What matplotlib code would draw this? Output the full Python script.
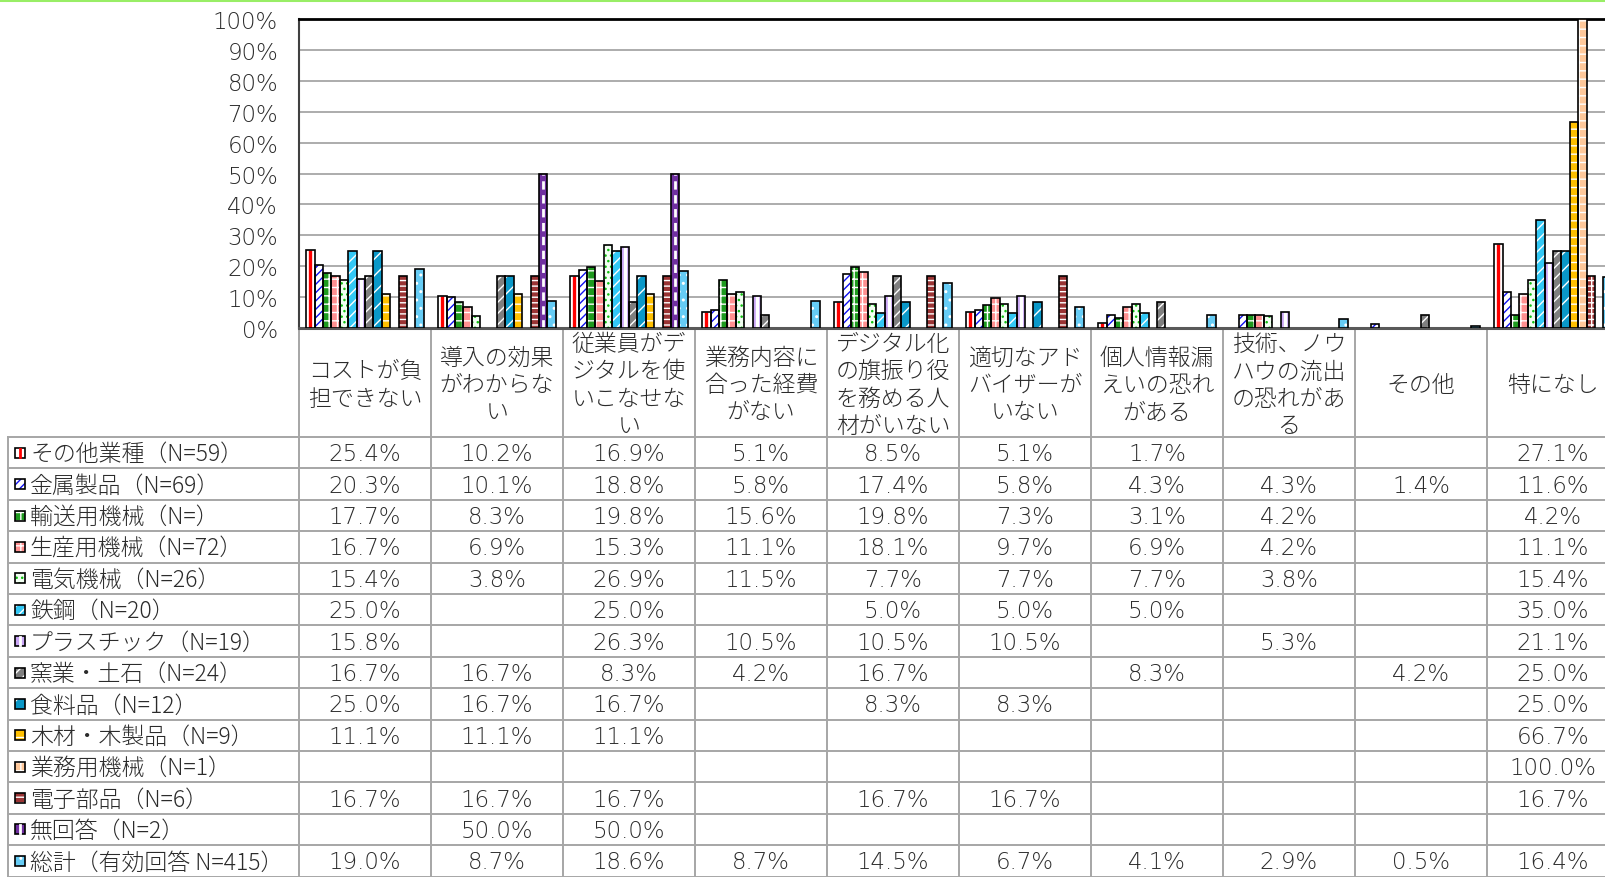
import matplotlib
matplotlib.use('Agg')
import matplotlib.pyplot as plt
from matplotlib.patches import Rectangle
from matplotlib.lines import Line2D
import numpy as np

plt.rcParams['font.family'] = ['Noto Sans CJK JP', 'DejaVu Sans']
plt.rcParams['hatch.linewidth'] = 1.0

# --- data -------------------------------------------------------------
categories = [
    'コストが負\n担できない',
    '導入の効果\nがわからな\nい',
    '従業員がデ\nジタルを使\nいこなせな\nい',
    '業務内容に\n合った経費\nがない',
    'デジタル化\nの旗振り役\nを務める人\n材がいない',
    '適切なアド\nバイザーが\nいない',
    '個人情報漏\nえいの恐れ\nがある',
    '技術、ノウ\nハウの流出\nの恐れがあ\nる',
    'その他',
    '特になし',
]

series_names = [
    'その他業種（N=59）',
    '金属製品（N=69）',
    '輸送用機械（N=）',
    '生産用機械（N=72）',
    '電気機械（N=26）',
    '鉄鋼（N=20）',
    'プラスチック（N=19）',
    '窯業・土石（N=24）',
    '食料品（N=12）',
    '木材・木製品（N=9）',
    '業務用機械（N=1）',
    '電子部品（N=6）',
    '無回答（N=2）',
    '総計（有効回答 N=415）',
]

sonota_gyoshu = [25.4, 10.2, 16.9, 5.1, 8.5, 5.1, 1.7, None, None, 27.1]
kinzoku = [20.3, 10.1, 18.8, 5.8, 17.4, 5.8, 4.3, 4.3, 1.4, 11.6]
yuso_kikai = [17.7, 8.3, 19.8, 15.6, 19.8, 7.3, 3.1, 4.2, None, 4.2]
seisan_kikai = [16.7, 6.9, 15.3, 11.1, 18.1, 9.7, 6.9, 4.2, None, 11.1]
denki_kikai = [15.4, 3.8, 26.9, 11.5, 7.7, 7.7, 7.7, 3.8, None, 15.4]
tekko = [25.0, None, 25.0, None, 5.0, 5.0, 5.0, None, None, 35.0]
plastic = [15.8, None, 26.3, 10.5, 10.5, 10.5, None, 5.3, None, 21.1]
yogyo = [16.7, 16.7, 8.3, 4.2, 16.7, None, 8.3, None, 4.2, 25.0]
shokuryo = [25.0, 16.7, 16.7, None, 8.3, 8.3, None, None, None, 25.0]
mokuzai = [11.1, 11.1, 11.1, None, None, None, None, None, None, 66.7]
gyomu_kikai = [None, None, None, None, None, None, None, None, None, 100.0]
denshi = [16.7, 16.7, 16.7, None, 16.7, 16.7, None, None, None, 16.7]
mukaito = [None, 50.0, 50.0, None, None, None, None, None, None, None]
sokei = [19.0, 8.7, 18.6, 8.7, 14.5, 6.7, 4.1, 2.9, 0.5, 16.4]

series_values = [sonota_gyoshu, kinzoku, yuso_kikai, seisan_kikai, denki_kikai,
                 tekko, plastic, yogyo, shokuryo, mokuzai, gyomu_kikai,
                 denshi, mukaito, sokei]

y_ticks = [0, 10, 20, 30, 40, 50, 60, 70, 80, 90, 100]

# --- styles: face, hatch, hatch colour, centre stripe colour, stripe dashed
styles = [
    ('white', None, None, '#FF0000', False),
    ('white', '////', '#1010F0', None, False),
    ('#1E9A1E', '++', 'white', None, False),
    ('#FF9090', '++', 'white', None, False),
    ('#F2FFF2', '...', '#10C010', None, False),
    ('#33C8F5', '///', 'white', None, False),
    ('#C9A6F5', None, None, 'white', False),
    ('#7F7F7F', '///', 'white', None, False),
    ('#0A98C8', '//', 'white', None, False),
    ('#FFC000', '--', 'white', None, False),
    ('#FFC89A', '++', 'white', None, False),
    ('#9A3434', '+--', 'white', None, False),
    ('#7030A0', None, None, 'white', True),
    ('#66CCF5', '..', 'white', None, False),
]

# --- layout (pixels) ---------------------------------------------------
W, H = 1606, 878
PLOT_L, COL_W = 299, 132
PLOT_TOP, PLOT_BOT = 20, 329
HEAD_BOT, ROW_H = 438, 31.4
TAB_L = 8
n_cat = len(categories)
n_ser = len(series_names)
bar_w = 8.4 / COL_W
text_color = '#2b2b2b'
line_color = '#A6A6A6'
num_font = dict(family=['DejaVu Sans'], fontsize=16.5, color=text_color,
                fontweight='light')
jp_font = dict(fontsize=16.5, color=text_color, fontweight='light')

fig = plt.figure(figsize=(W / 100, H / 100), dpi=100)
ax = fig.add_axes([PLOT_L / W, 1 - PLOT_BOT / H, n_cat * COL_W / W,
                   (PLOT_BOT - PLOT_TOP) / H])

x = np.arange(n_cat)
for j, (vals, st) in enumerate(zip(series_values, styles)):
    face, hatch, hcol, stripe, dashed = st
    xs = np.array([x[i] + (j - (n_ser - 1) / 2) * bar_w
                   for i, v in enumerate(vals) if v is not None])
    hs = np.array([v for v in vals if v is not None])
    if hatch:
        ax.bar(xs, hs, bar_w, color=face, hatch=hatch, edgecolor=hcol,
               linewidth=0, zorder=3)
    else:
        ax.bar(xs, hs, bar_w, color=face, linewidth=0, zorder=3)
    if stripe:
        ax.vlines(xs, 0, hs, colors=stripe, linewidth=2.4 if not dashed else 2,
                  linestyles=(0, (3, 2)) if dashed else 'solid', zorder=4)
    ax.bar(xs, hs, bar_w, fill=False, edgecolor='black', linewidth=1.2,
           zorder=5)

ax.set_xlim(-0.5, n_cat - 0.5)
ax.set_ylim(0, 100)
ax.set_yticks(y_ticks)
ax.set_yticklabels([f'{t}%' for t in y_ticks], **num_font)
ax.tick_params(axis='y', length=0, pad=15)
ax.set_xticks([])
ax.grid(axis='y', color=line_color, linewidth=1.3, zorder=0)
ax.spines['top'].set_linewidth(2)
ax.spines['top'].set_color('black')
ax.spines['left'].set_linewidth(1.5)
ax.spines['left'].set_color('#404040')
ax.spines['bottom'].set_linewidth(2.2)
ax.spines['bottom'].set_color('#595959')
ax.spines['right'].set_visible(False)

# --- data table --------------------------------------------------------
tab = fig.add_axes([0, 0, 1, 1], zorder=-1)
tab.set_xlim(0, W)
tab.set_ylim(H, 0)
tab.axis('off')

col_edges = [PLOT_L + k * COL_W for k in range(n_cat + 1)]
row_edges = [HEAD_BOT + k * ROW_H for k in range(n_ser + 1)]
right = col_edges[-1]

for cx in col_edges:
    tab.plot([cx, cx], [PLOT_BOT, H + 5], color=line_color, lw=1.4)
tab.plot([TAB_L, TAB_L], [HEAD_BOT, H + 5], color=line_color, lw=1.4)
for ry in row_edges:
    tab.plot([TAB_L, right], [ry, ry], color=line_color, lw=1.4)

for i, cat in enumerate(categories):
    tab.text(col_edges[i] + COL_W / 2, (PLOT_BOT + HEAD_BOT) / 2 + 2, cat,
             ha='center', va='center', linespacing=1.12, **jp_font)

for j, (name, vals, st) in enumerate(zip(series_names, series_values, styles)):
    cy = row_edges[j] + ROW_H / 2
    face, hatch, hcol, stripe, dashed = st
    key = Rectangle((15, cy - 5), 10, 10, facecolor=face,
                    hatch=hatch, edgecolor=hcol if hatch else face, lw=0)
    tab.add_patch(key)
    if stripe:
        tab.plot([20, 20], [cy - 4, cy + 4], color=stripe, lw=2)
    tab.add_patch(Rectangle((15, cy - 5), 10, 10, fill=False,
                            edgecolor='black', lw=1.2))
    tab.text(30, cy + 1, name, ha='left', va='center', **jp_font)
    for i, v in enumerate(vals):
        if v is None:
            continue
        tab.text(col_edges[i] + COL_W / 2, cy + 1, f'{v:.1f}%',
                 ha='center', va='center', **num_font)

# thin green band along the top edge
fig.add_artist(Line2D([0, 1], [1 - 1 / H, 1 - 1 / H], color='#99EE66',
                      lw=2.2, transform=fig.transFigure))

fig.savefig('out.png', dpi=100)
